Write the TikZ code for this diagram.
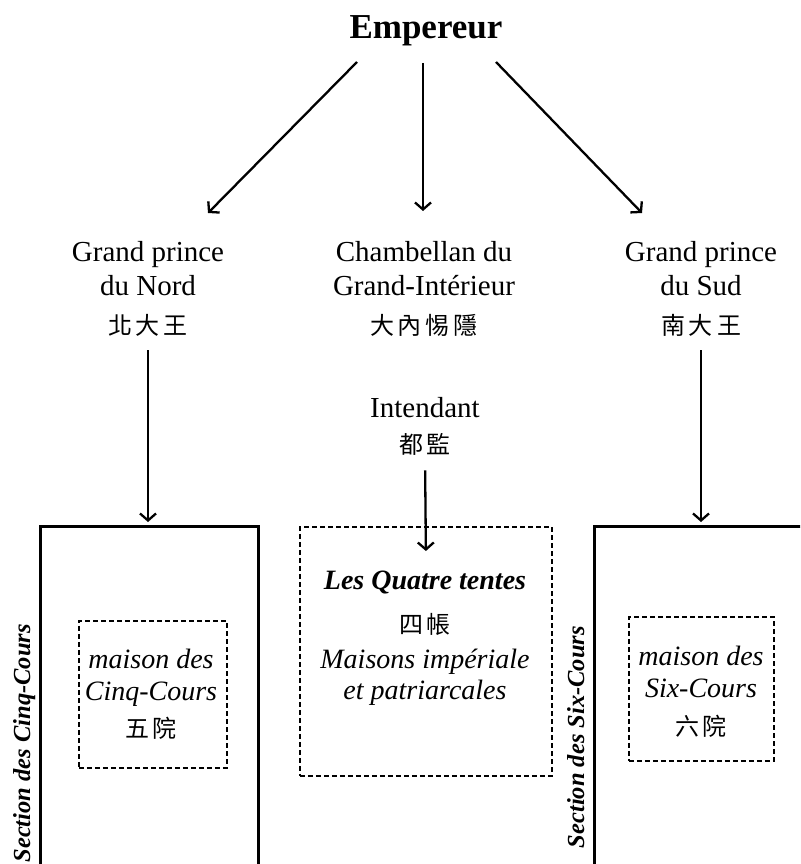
\documentclass[tikz,border=0pt]{standalone}
\usepackage{fontspec}
\setmainfont{Liberation Serif}
\newfontfamily\cjk{Noto Sans CJK TC}
\usetikzlibrary{arrows.meta}
\newcommand\cjs{\hspace{4pt}}
\newcommand\zh[1]{{\cjk\upshape\mdseries\fontsize{24}{30}\selectfont #1}}
\begin{document}
\begin{tikzpicture}[x=1pt,y=-1pt,
  arr/.style={line width=2.3pt,-{Straight Barb[length=7pt,width=16pt]}},
  solidbox/.style={draw,line width=2.8pt,inner sep=0pt},
  dashbox/.style={draw,line width=1.8pt,dash pattern=on 5pt off 3pt,inner sep=0pt},
  txt/.style={inner sep=0pt,align=center,font=\fontsize{29}{34}\selectfont},
  itxt/.style={inner sep=0pt,align=center,font=\fontsize{28}{31.5}\selectfont\itshape},
  sect/.style={rotate=90,inner sep=0pt,font=\fontsize{24.5}{30}\selectfont\bfseries\itshape}]
\useasboundingbox (0,0) rectangle (800,864);
\clip (0,0) rectangle (800,864);

% title
\node[inner sep=0pt,font=\fontsize{35}{40}\selectfont\bfseries] (emp) at (426,31) {Empereur};

% second level
\node[txt,anchor=north] (north) at (148,241) {Grand prince\\du Nord\\[5pt]\zh{北\cjs 大\cjs 王}};
\node[txt,anchor=north] (cham) at (424,241) {Chambellan du\\Grand-Intérieur\\[5pt]\zh{大\cjs 內\cjs 惕\cjs 隱}};
\node[txt,anchor=north] (south) at (701,241) {Grand prince\\du Sud\\[5pt]\zh{南\cjs 大\cjs 王}};
\node[txt,anchor=north] (intend) at (425,397) {Intendant\\[2pt]\zh{都\cjs 監}};

% boxes
\node[solidbox,minimum width=218pt,minimum height=350pt,anchor=north west] (secN) at (39,525) {};
\node[solidbox,minimum width=230pt,minimum height=350pt,anchor=north west] (secS) at (593,525) {};
\node[dashbox,minimum width=252pt,minimum height=249pt,anchor=north west] (tentes) at (299,526) {};
\node[dashbox,minimum width=148pt,minimum height=147pt,anchor=north west] (maisonN) at (78,620) {};
\node[dashbox,minimum width=145pt,minimum height=144pt,anchor=north west] (maisonS) at (628,616) {};

% box texts
\node[itxt,anchor=north] (tentesT) at (425,571) {{\bfseries Les Quatre tentes}\\[12.5pt]\zh{四\cjs 帳}\\[3pt]Maisons impériale\\et patriarcales};
\node[itxt,anchor=north] (maisonNT) at (151,649) {maison des\\Cinq-Cours\\[6pt]\zh{五\cjs 院}};
\node[itxt,anchor=north] (maisonST) at (701,646) {maison des\\Six-Cours\\[7pt]\zh{六\cjs 院}};

% section labels
\node[sect,anchor=base east] (secNlab) at (30,624) {Section des Cinq-Cours};
\node[sect,anchor=base east] (secSlab) at (584,626) {Section des Six-Cours};

% arrows from the emperor
\coordinate (e1) at (357,62);
\coordinate (e2) at (423,63);
\coordinate (e3) at (496,62);
\coordinate (n1) at (208,213);
\coordinate (c1) at (423,211);
\coordinate (s1) at (642,213);
\draw[arr] (e1) -- (n1);
\draw[arr] (e2) -- (c1);
\draw[arr] (e3) -- (s1);

% arrows down to the sections
\draw[arr,shorten <=14pt,shorten >=3pt] (north.south) -- (north.south |- secN.north);
\draw[arr,shorten <=14pt,shorten >=3pt] (south.south) -- (south.south |- secS.north);
\draw[arr,shorten <=15pt] (intend.south) -- ([yshift=-25pt]tentes.north);
\end{tikzpicture}
\end{document}
